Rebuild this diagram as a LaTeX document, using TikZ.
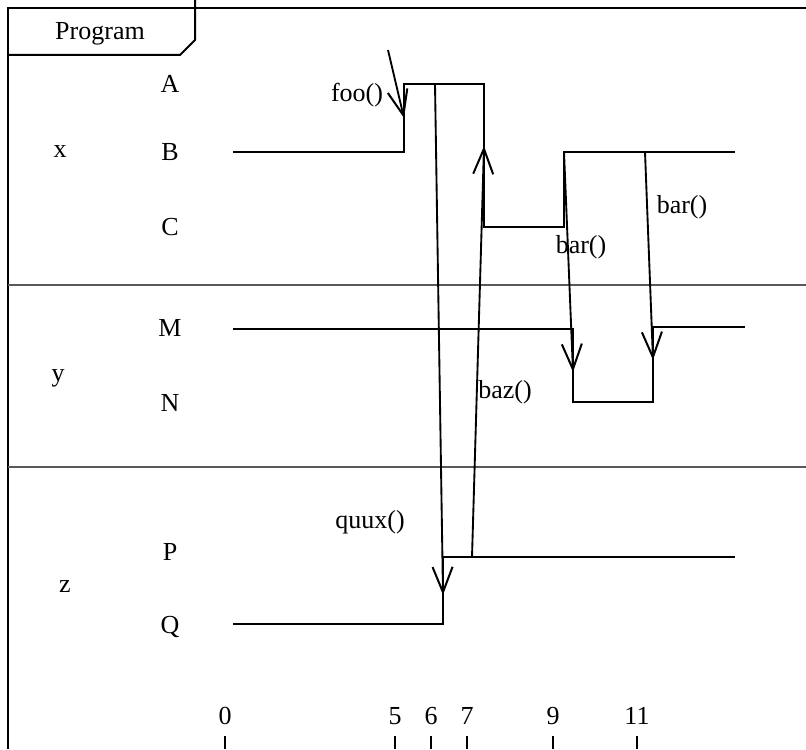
\documentclass[tikz,border=0pt]{standalone}
\usepackage{fontspec}
\setmainfont{Liberation Serif}
\usetikzlibrary{arrows.meta}
\begin{document}
\begin{tikzpicture}[x=0.75pt,y=-0.75pt,
  every node/.style={font=\fontsize{19.5}{22}\selectfont, inner sep=0pt},
  frameline/.style={line width=1.5pt},
  separator/.style={line width=0.8pt, draw=black!65},
  wave/.style={line width=1.6pt, line join=miter},
  msg/.style={line width=1.4pt, -{Straight Barb[length=19pt,width=15pt,line width=1.5pt]}},
  tick/.style={line width=1.3pt}]
\useasboundingbox (0,0) rectangle (806,749);

% frame and name tab
\coordinate (fTL) at (8,8);
\coordinate (fTR) at (806,8);
\coordinate (fBL) at (8,749);
\coordinate (tab0) at (195,0);
\coordinate (tab1) at (195,40);
\coordinate (tab2) at (180,55);
\coordinate (tab3) at (8,55);
\draw[frameline] (fTR) -- (fTL) -- (fBL);
\draw[frameline] (tab0) -- (tab1) -- (tab2) -- (tab3);
\node (title) at (100,34) {Program};

% lane separators
\coordinate (s1a) at (8,285);   \coordinate (s1b) at (806,285);
\coordinate (s2a) at (8,467);   \coordinate (s2b) at (806,467);
\draw[separator] (s1a) -- (s1b);
\draw[separator] (s2a) -- (s2b);

% lifeline and state names
\node (lx) at (60,152) {x};
\node (ly) at (58,378) {y};
\node (lz) at (65,587) {z};
\node (stA) at (170,84) {A};
\node (stB) at (170,152) {B};
\node (stC) at (170,227) {C};
\node (stM) at (170,328) {M};
\node (stN) at (170,403) {N};
\node (stP) at (170,552) {P};
\node (stQ) at (170,627) {Q};

% state of x
\coordinate (x0) at (233,152);
\coordinate (x1) at (404,152);
\coordinate (x2) at (404,84);
\coordinate (x3) at (484,84);
\coordinate (x4) at (484,227);
\coordinate (x5) at (564,227);
\coordinate (x6) at (564,152);
\coordinate (x7) at (735,152);
\draw[wave] (x0) -- (x1) -- (x2) -- (x3) -- (x4) -- (x5) -- (x6) -- (x7);

% state of y
\coordinate (y0) at (233,329);
\coordinate (y1) at (573,329);
\coordinate (y2) at (573,402);
\coordinate (y3) at (653,402);
\coordinate (y4) at (653,327);
\coordinate (y5) at (745,327);
\draw[wave] (y0) -- (y1) -- (y2) -- (y3) -- (y4) -- (y5);

% state of z
\coordinate (z0) at (233,624);
\coordinate (z1) at (443,624);
\coordinate (z2) at (443,557);
\coordinate (z3) at (735,557);
\draw[wave] (z0) -- (z1) -- (z2) -- (z3);

% messages
\coordinate (fooS) at (388,50);
\coordinate (fooE) at (404,118);
\coordinate (quuxS) at (435,84);
\coordinate (quuxE) at (443,595);
\coordinate (bazS) at (472,557);
\coordinate (bazE) at (484,146);
\coordinate (barAS) at (564,152);
\coordinate (barAE) at (573,372);
\coordinate (barBS) at (645,152);
\coordinate (barBE) at (653,360);
\draw[msg] (fooS) -- (fooE);
\draw[msg] (quuxS) -- (quuxE);
\draw[msg] (bazS) -- (bazE);
\draw[msg] (barAS) -- (barAE);
\draw[msg] (barBS) -- (barBE);
\node (mfoo) at (357,95) {foo()};
\node (mquux) at (370,522) {quux()};
\node (mbaz) at (505,392) {baz()};
\node (mbarA) at (581,247) {bar()};
\node (mbarB) at (682,207) {bar()};

% time axis
\foreach \t/\px in {0/225,5/395,6/431,7/467,9/553,11/637}{
  \node (t\t) at (\px,716) {\t};
  \coordinate (tk\t a) at (\px,736);
  \coordinate (tk\t b) at (\px,749);
  \draw[tick] (tk\t a) -- (tk\t b);
}
\end{tikzpicture}
\end{document}
